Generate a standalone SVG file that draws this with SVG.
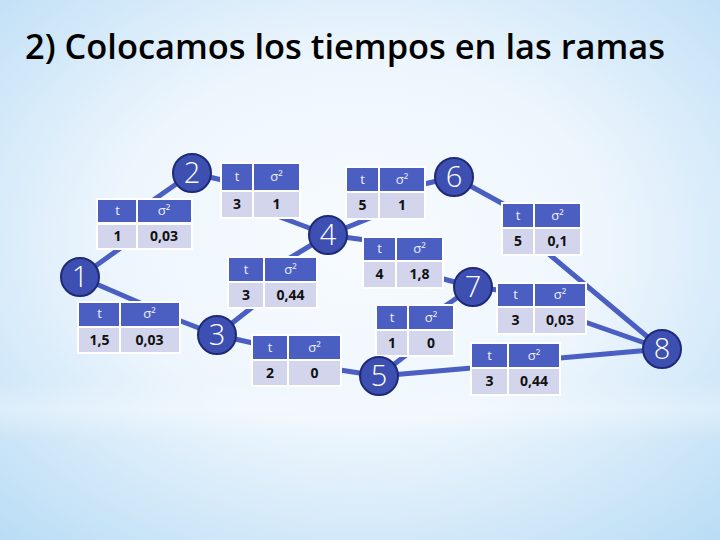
<svg xmlns="http://www.w3.org/2000/svg" width="720" height="540" viewBox="0 0 720 540">
<defs>
<radialGradient id="bg" cx="0.5" cy="0.45" r="0.75">
<stop offset="0" stop-color="#f7fbfe"/>
<stop offset="0.45" stop-color="#eef6fd"/>
<stop offset="1" stop-color="#b8dcf5"/>
</radialGradient>
<linearGradient id="band" x1="0" y1="0" x2="0" y2="1">
<stop offset="0" stop-color="#ffffff" stop-opacity="0"/>
<stop offset="0.5" stop-color="#ffffff" stop-opacity="0.3"/>
<stop offset="1" stop-color="#ffffff" stop-opacity="0"/>
</linearGradient>
</defs>
<style>
.edge{fill:none;stroke:#4a5fc1;stroke-width:5;stroke-linejoin:round}
.node circle{fill:#3d4fb0;stroke:#1e2a78;stroke-width:2}
.node text{fill:#ffffff;font-family:"Open Sans","Noto Sans",sans-serif;font-size:29px;font-weight:300;text-anchor:middle}
.hd{fill:#4a5fc1}
.dt{fill:#d3d5ec}
.tb{fill:#ffffff}
.th{fill:#eef0ff;font-family:"Open Sans","Noto Sans",sans-serif;font-size:13px;text-anchor:middle}
.td{fill:#111111;font-family:"Open Sans","Noto Sans",sans-serif;font-size:14px;font-weight:bold;text-anchor:middle}
.title{fill:#000000;font-family:"Open Sans","Noto Sans",sans-serif;font-size:35px;font-weight:600}
</style>
<rect x="0" y="0" width="720" height="540" fill="url(#bg)"/>
<rect x="0" y="380" width="720" height="60" fill="url(#band)"/>
<text class="title" x="25" y="59" textLength="640" lengthAdjust="spacingAndGlyphs">2) Colocamos los tiempos en las ramas</text>

<g id="connectors">
<path class="edge" d="M80,277 L122,247 L152,201 L192,173"/>
<path class="edge" d="M80,277 L145,305 L178,320 L217,335"/>
<path class="edge" d="M192,173 L222,180 L280,217 L328,235"/>
<path class="edge" d="M217,335 L255,305 L290,258 L328,235"/>
<path class="edge" d="M328,235 L375,216 L420,185 L454,177"/>
<path class="edge" d="M328,235 L366,240 L440,278 L473,287"/>
<path class="edge" d="M454,177 L505,205 L550,255 L662,349"/>
<path class="edge" d="M473,287 L498,290 L585,322 L662,349"/>
<path class="edge" d="M379,376 L410,352 L445,306 L473,287"/>
<path class="edge" d="M379,376 L472,368 L560,358 L662,349"/>
<path class="edge" d="M217,335 L253,343 L340,370 L379,376"/>
</g>

<g id="table-1-2">
<rect class="tb" x="96" y="198" width="97" height="52"/>
<rect class="hd" x="98" y="200" width="38" height="22"/><rect class="hd" x="138" y="200" width="53" height="22"/>
<rect class="dt" x="98" y="225" width="38" height="23"/><rect class="dt" x="138" y="225" width="53" height="23"/>
<text class="th" x="117.5" y="215">t</text><text class="th" x="164" y="215">σ²</text>
<text class="td" x="117.5" y="241">1</text><text class="td" x="164" y="241">0,03</text>
</g>
<g id="table-1-3">
<rect class="tb" x="77" y="301" width="104" height="53"/>
<rect class="hd" x="79" y="303" width="40" height="23"/><rect class="hd" x="121" y="303" width="58" height="23"/>
<rect class="dt" x="79" y="328" width="40" height="24"/><rect class="dt" x="121" y="328" width="58" height="24"/>
<text class="th" x="99.5" y="318">t</text><text class="th" x="149.5" y="318">σ²</text>
<text class="td" x="99.5" y="345">1,5</text><text class="td" x="149.5" y="345">0,03</text>
</g>
<g id="table-2-4">
<rect class="tb" x="220" y="162" width="81" height="57"/>
<rect class="hd" x="222" y="164" width="30" height="26"/><rect class="hd" x="254" y="164" width="45" height="26"/>
<rect class="dt" x="222" y="192" width="30" height="25"/><rect class="dt" x="254" y="192" width="45" height="25"/>
<text class="th" x="237" y="181">t</text><text class="th" x="276.5" y="181">σ²</text>
<text class="td" x="237" y="209">3</text><text class="td" x="276.5" y="209">1</text>
</g>
<g id="table-4-6">
<rect class="tb" x="345" y="166" width="81" height="54"/>
<rect class="hd" x="347" y="168" width="31" height="23"/><rect class="hd" x="380" y="168" width="44" height="23"/>
<rect class="dt" x="347" y="193" width="31" height="25"/><rect class="dt" x="380" y="193" width="44" height="25"/>
<text class="th" x="362.5" y="184">t</text><text class="th" x="402" y="184">σ²</text>
<text class="td" x="362.5" y="210">5</text><text class="td" x="402" y="210">1</text>
</g>
<g id="table-3-4">
<rect class="tb" x="227" y="256" width="91" height="53"/>
<rect class="hd" x="229" y="258" width="34" height="23"/><rect class="hd" x="265" y="258" width="51" height="23"/>
<rect class="dt" x="229" y="283" width="34" height="24"/><rect class="dt" x="265" y="283" width="51" height="24"/>
<text class="th" x="246" y="274">t</text><text class="th" x="290.5" y="274">σ²</text>
<text class="td" x="246" y="300">3</text><text class="td" x="290.5" y="300">0,44</text>
</g>
<g id="table-4-7">
<rect class="tb" x="362" y="236" width="82" height="53"/>
<rect class="hd" x="364" y="238" width="31" height="22"/><rect class="hd" x="397" y="238" width="45" height="22"/>
<rect class="dt" x="364" y="262" width="31" height="25"/><rect class="dt" x="397" y="262" width="45" height="25"/>
<text class="th" x="379.5" y="253">t</text><text class="th" x="419.5" y="253">σ²</text>
<text class="td" x="379.5" y="279">4</text><text class="td" x="419.5" y="279">1,8</text>
</g>
<g id="table-6-8">
<rect class="tb" x="501" y="202" width="81" height="54"/>
<rect class="hd" x="503" y="204" width="30" height="23"/><rect class="hd" x="535" y="204" width="45" height="23"/>
<rect class="dt" x="503" y="229" width="30" height="25"/><rect class="dt" x="535" y="229" width="45" height="25"/>
<text class="th" x="518" y="220">t</text><text class="th" x="557.5" y="220">σ²</text>
<text class="td" x="518" y="246">5</text><text class="td" x="557.5" y="246">0,1</text>
</g>
<g id="table-7-8">
<rect class="tb" x="496" y="282" width="91" height="53"/>
<rect class="hd" x="498" y="284" width="35" height="22"/><rect class="hd" x="535" y="284" width="50" height="22"/>
<rect class="dt" x="498" y="308" width="35" height="25"/><rect class="dt" x="535" y="308" width="50" height="25"/>
<text class="th" x="515.5" y="299">t</text><text class="th" x="560" y="299">σ²</text>
<text class="td" x="515.5" y="325">3</text><text class="td" x="560" y="325">0,03</text>
</g>
<g id="table-5-7">
<rect class="tb" x="375" y="304" width="80" height="53"/>
<rect class="hd" x="377" y="306" width="30" height="23"/><rect class="hd" x="409" y="306" width="44" height="23"/>
<rect class="dt" x="377" y="331" width="30" height="24"/><rect class="dt" x="409" y="331" width="44" height="24"/>
<text class="th" x="392" y="322">t</text><text class="th" x="431" y="322">σ²</text>
<text class="td" x="392" y="348">1</text><text class="td" x="431" y="348">0</text>
</g>
<g id="table-5-8">
<rect class="tb" x="470" y="342" width="91" height="54"/>
<rect class="hd" x="472" y="344" width="35" height="23"/><rect class="hd" x="509" y="344" width="50" height="23"/>
<rect class="dt" x="472" y="369" width="35" height="25"/><rect class="dt" x="509" y="369" width="50" height="25"/>
<text class="th" x="489.5" y="360">t</text><text class="th" x="534" y="360">σ²</text>
<text class="td" x="489.5" y="386">3</text><text class="td" x="534" y="386">0,44</text>
</g>
<g id="table-3-5">
<rect class="tb" x="251" y="334" width="91" height="53"/>
<rect class="hd" x="253" y="336" width="34" height="23"/><rect class="hd" x="289" y="336" width="51" height="23"/>
<rect class="dt" x="253" y="361" width="34" height="24"/><rect class="dt" x="289" y="361" width="51" height="24"/>
<text class="th" x="270" y="352">t</text><text class="th" x="314.5" y="352">σ²</text>
<text class="td" x="270" y="378">2</text><text class="td" x="314.5" y="378">0</text>
</g>

<g id="node-1" class="node"><circle cx="80" cy="277" r="19"/><text x="80" y="287">1</text></g>
<g id="node-2" class="node"><circle cx="192" cy="173" r="19"/><text x="192" y="183">2</text></g>
<g id="node-3" class="node"><circle cx="217" cy="335" r="19"/><text x="217" y="345">3</text></g>
<g id="node-4" class="node"><circle cx="328" cy="235" r="19"/><text x="328" y="245">4</text></g>
<g id="node-5" class="node"><circle cx="379" cy="376" r="19"/><text x="379" y="386">5</text></g>
<g id="node-6" class="node"><circle cx="454" cy="177" r="19"/><text x="454" y="187">6</text></g>
<g id="node-7" class="node"><circle cx="473" cy="287" r="19"/><text x="473" y="297">7</text></g>
<g id="node-8" class="node"><circle cx="662" cy="349" r="19"/><text x="662" y="359">8</text></g>
</svg>
